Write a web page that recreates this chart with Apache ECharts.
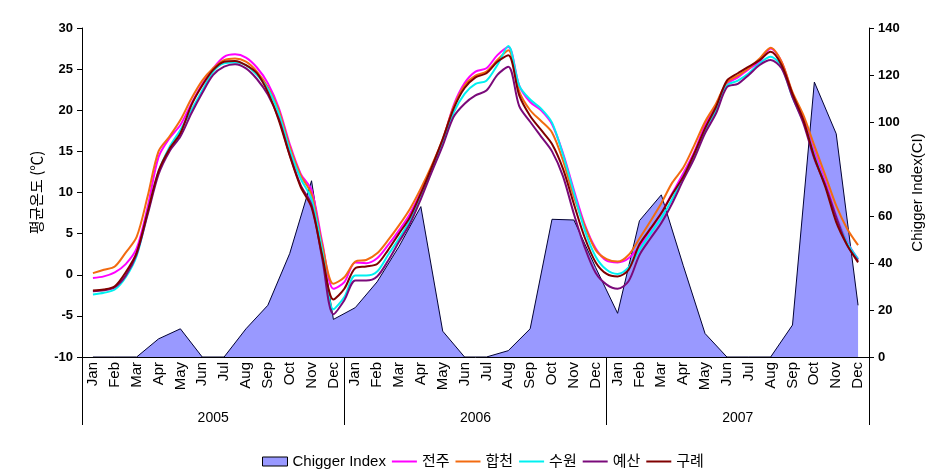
<!DOCTYPE html>
<html><head><meta charset="utf-8">
<script src="https://cdn.jsdelivr.net/npm/echarts@6/dist/echarts.min.js"></script>
<style>html,body{margin:0;padding:0;background:#fff}#c{width:948px;height:473px}</style>
</head><body><div id="c"></div>
<script>
// ---- data ----
const monthNames = ['Jan','Feb','Mar','Apr','May','Jun','Jul','Aug','Sep','Oct','Nov','Dec'];
const years = ['2005','2006','2007'];
// Chigger Index, monthly (right axis)
const chigger = [
  0,0,0,7.7,12,0,0,12,22,44,75,16,
  21,32,47,64,11,0,0,2.7,12,58.6,58.3,38,
  18.6,58,69,39,10,0,0,0,13.6,117,95,22
];
// mean temperature, half-month steps from mid-Jan 2005 to mid-Dec 2007 (left axis)
const jeonju = [-0.4,-0.2,0.3,1.3,3.2,8.2,14.3,16.6,18.2,20.8,
  23.2,25.1,26.5,26.8,26.4,25.2,23.3,20.3,15.9,12.3,
  10.3,3.8,-1.7,-0.9,1.5,1.4,2.0,3.6,5.4,7.4,
  10.1,13.1,16.3,20.6,23.3,24.7,25.1,26.7,27.7,23.0,
  21.0,20.0,18.3,14.8,10.3,6.1,3.2,1.7,1.5,2.0,
  3.5,5.5,7.5,9.9,12.3,14.9,18.2,20.6,23.2,24.0,
  25.0,25.9,27.5,25.9,22.0,19.0,14.9,11.3,7.2,4.0,1.9];
const hapcheon = [0.2,0.6,1.0,2.7,4.6,9.5,15.0,16.8,18.8,21.4,
  23.6,25.1,26.1,26.3,25.9,24.7,22.8,20.0,15.6,12.1,
  9.8,3.5,-1.1,-0.3,1.6,1.8,2.6,4.2,6.0,8.0,
  10.5,13.3,16.5,20.4,23.0,24.2,24.7,26.1,27.3,22.3,
  20.0,18.7,17.3,13.9,9.5,5.9,3.0,1.9,1.6,2.4,
  4.4,6.5,8.7,11.2,13.0,15.7,18.6,20.8,23.4,24.2,
  25.1,26.3,27.6,25.9,22.2,19.4,15.7,12.1,8.4,5.6,3.6];
const suwon = [-2.4,-2.2,-1.8,-0.3,2.3,7.5,12.5,15.5,17.6,20.0,
  22.4,24.7,25.7,25.8,25.5,24.3,22.6,19.6,15.2,11.7,
  9.2,2.8,-4.2,-2.7,-0.1,-0.1,0.4,2.4,4.4,6.6,
  9.7,12.7,15.9,19.7,22.0,23.2,23.6,25.5,27.8,23.0,
  21.3,20.2,18.5,14.6,10.0,5.4,2.2,0.6,0.1,0.9,
  3.0,5.0,6.9,9.2,11.9,14.5,17.6,20.0,23.0,23.6,
  24.5,25.7,26.5,25.3,21.6,18.6,14.5,10.9,7.0,3.9,1.9];
const yesan = [-2.0,-1.9,-1.5,-0.1,2.5,7.3,12.2,15.0,16.8,19.6,
  22.1,24.3,25.3,25.6,25.1,23.8,21.9,19.0,14.6,10.9,
  8.5,1.8,-4.8,-3.1,-0.7,-0.7,-0.2,1.7,4.0,6.2,
  9.2,12.5,15.7,19.2,20.8,21.8,22.4,24.3,25.3,20.5,
  18.6,16.8,15.0,12.0,7.4,3.3,0.2,-1.2,-1.7,-0.8,
  2.4,4.4,6.3,8.7,11.5,14.1,17.2,19.6,22.8,23.2,
  24.3,25.5,26.1,25.1,21.6,18.4,14.1,10.9,7.0,3.6,1.7];
const gurye = [-1.9,-1.8,-1.4,0.3,2.7,7.6,12.6,15.3,17.2,20.6,
  23.0,24.9,25.9,26.0,25.5,24.5,22.2,18.8,14.5,10.7,
  8.2,2.2,-3.0,-1.7,0.8,1.0,1.3,3.0,5.0,7.0,
  9.9,13.1,16.5,20.2,22.7,24.0,24.5,25.9,26.7,21.8,
  19.3,17.6,15.9,12.9,8.6,4.5,1.5,0.1,-0.2,0.6,
  3.7,5.6,7.5,9.8,11.9,14.7,17.8,20.4,23.6,24.5,
  25.3,26.1,27.1,25.5,22.0,18.8,14.3,10.7,6.4,3.6,1.5];
const leftTicks = {min:-10, max:30, interval:5};
const rightTicks = {min:0, max:140, interval:20};

// ---- derived ----
const months = [];
years.forEach(() => monthNames.forEach(m => months.push(m)));
const halfSteps = jeonju.map((_, i) => String(i));

const GL = 82, GR = 79, GT = 28, GB = 116;
const half = (948 - GL - GR) / months.length / 2;
const FONT = "'Liberation Sans', Arial, 'Noto Sans CJK KR', sans-serif";
const LINE_ICON = 'path://M0,0H25V2H0Z';

const chart = echarts.init(document.getElementById('c'), null, {renderer:'canvas'});
const lineDefs = [
  ['전주', jeonju, '#ff00ff'],
  ['합천', hapcheon, '#f26b10'],
  ['수원', suwon, '#00f0f0'],
  ['예산', yesan, '#7a0a7a'],
  ['구례', gurye, '#800000']
];
const lineSeries = lineDefs.map(([name, data, color]) => ({
  name, type:'line', xAxisIndex:2, yAxisIndex:2, data,
  symbol:'none', smooth:0.3, z:3,
  lineStyle:{color, width:2}, itemStyle:{color}
}));

chart.setOption({
  animation:false,
  backgroundColor:'#fff',
  textStyle:{fontFamily:FONT},
  grid:[
    {left:GL, right:GR, top:GT, bottom:GB},
    {left:GL, right:GR, top:GT, bottom:GB},
    {left:GL + half, right:GR + half, top:GT, bottom:GB}
  ],
  legend:{
    left:257, top:449, itemGap:6, itemWidth:25, itemHeight:9,
    textStyle:{fontSize:15, color:'#000', fontFamily:FONT},
    data:[
      {name:'Chigger Index', icon:'rect', itemStyle:{color:'#9999ff', borderColor:'#000', borderWidth:1}},
      ...lineDefs.map(([name, , color]) => ({name, icon:LINE_ICON, itemStyle:{color, borderWidth:0}}))
    ]
  },
  xAxis:[
    {type:'category', gridIndex:0, data:months, boundaryGap:true, z:10,
     axisLine:{show:true, onZero:false, lineStyle:{color:'#000', width:1}},
     axisTick:{show:false},
     axisLabel:{rotate:90, interval:0, fontSize:15, color:'#000', margin:5, fontFamily:FONT}},
    {type:'category', gridIndex:1, data:years, boundaryGap:true, position:'bottom', z:10,
     axisLine:{show:false, onZero:false},
     axisTick:{show:true, length:68, lineStyle:{color:'#000', width:1}},
     axisLabel:{margin:54, fontSize:14, color:'#000', fontFamily:FONT}},
    {type:'category', gridIndex:2, data:halfSteps, boundaryGap:false, show:false}
  ],
  yAxis:[
    {type:'value', gridIndex:0, position:'left', ...leftTicks, z:10,
     name:'평균온도 (℃)', nameLocation:'middle', nameGap:38,
     nameTextStyle:{fontSize:15, color:'#000', fontFamily:"'Noto Sans CJK KR', sans-serif"},
     axisLine:{show:true, onZero:false, lineStyle:{color:'#000'}},
     axisTick:{show:true, length:5, lineStyle:{color:'#000'}},
     axisLabel:{fontSize:13, fontWeight:'bold', color:'#000', margin:9, fontFamily:FONT},
     splitLine:{show:false}},
    {type:'value', gridIndex:0, position:'right', ...rightTicks, z:10,
     name:'Chigger Index(CI)', nameLocation:'middle', nameGap:38,
     nameTextStyle:{fontSize:15, color:'#000', fontFamily:FONT},
     axisLine:{show:true, onZero:false, lineStyle:{color:'#000'}},
     axisTick:{show:true, length:5, lineStyle:{color:'#000'}},
     axisLabel:{fontSize:13, fontWeight:'bold', color:'#000', margin:9, fontFamily:FONT},
     splitLine:{show:false}},
    {type:'value', gridIndex:2, ...leftTicks, show:false, splitLine:{show:false}},
    {type:'value', gridIndex:1, show:false, splitLine:{show:false}}
  ],
  series:[
    {name:'Chigger Index', type:'line', xAxisIndex:0, yAxisIndex:1, data:chigger,
     symbol:'none', z:1,
     lineStyle:{color:'#000033', width:1},
     areaStyle:{color:'#9999ff', opacity:1},
     itemStyle:{color:'#9999ff'}},
    ...lineSeries
  ]
});
</script>
</body></html>
